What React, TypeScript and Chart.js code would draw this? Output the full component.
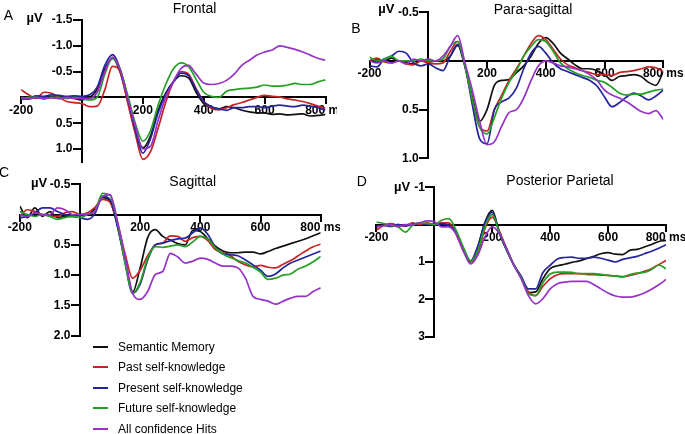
import { useEffect, useRef } from "react";
import { Chart, registerables } from "chart.js";

Chart.register(...registerables);

// ---------- data ----------
const timesMs = [-200, -175, -150, -125, -100, -75, -50, -25, 0, 25, 50, 75, 100, 125, 150, 175, 200, 225, 250, 275, 300, 325, 350, 375, 400, 425, 450, 475, 500, 525, 550, 575, 600, 625, 650, 675, 700, 725, 750, 775, 800];
const xTickValues = [-200, 200, 400, 600, 800];
const xUnit = "ms";
const yUnit = "µV";

const seriesNames = ["Semantic Memory", "Past self-knowledge", "Present self-knowledge", "Future self-knowledge", "All confidence Hits"];
const seriesColors = ["#111111", "#c62424", "#24249c", "#24a024", "#9632c8"];

const panelTitles = ["Frontal", "Para-sagittal", "Sagittal", "Posterior Parietal"];
const panelLetters = ["A", "B", "C", "D"];

// Frontal
const frontalSemantic = [0.02, 0.03, 0.0, 0.02, 0.0, 0.02, 0.0, 0.02, 0.05, 0.0, -0.15, -0.55, -0.76, -0.5, 0.05, 0.6, 0.98, 0.75, 0.25, -0.08, -0.3, -0.42, -0.38, -0.1, 0.12, 0.2, 0.22, 0.18, 0.2, 0.25, 0.28, 0.3, 0.3, 0.33, 0.32, 0.34, 0.33, 0.32, 0.36, 0.35, 0.33];
const frontalPast = [-0.15, -0.05, 0.02, -0.1, -0.08, 0.0, 0.08, 0.1, 0.12, 0.18, 0.17, -0.15, -0.6, -0.5, 0.1, 0.7, 1.2, 1.05, 0.6, 0.1, -0.3, -0.5, -0.45, -0.17, 0.08, 0.21, 0.24, 0.2, 0.14, 0.1, 0.05, 0.0, -0.04, -0.02, -0.01, 0.03, 0.05, 0.08, 0.12, 0.17, 0.21];
const frontalPresent = [0.03, 0.02, -0.03, -0.02, -0.05, -0.04, -0.02, -0.03, -0.02, -0.05, -0.2, -0.62, -0.83, -0.55, 0.0, 0.62, 1.08, 0.8, 0.3, -0.05, -0.3, -0.47, -0.42, -0.15, 0.08, 0.18, 0.22, 0.25, 0.2, 0.2, 0.18, 0.18, 0.2, 0.17, 0.15, 0.17, 0.18, 0.15, 0.17, 0.2, 0.25];
const frontalFuture = [0.02, 0.0, 0.0, 0.02, 0.0, 0.0, 0.02, 0.0, 0.02, 0.05, 0.0, -0.45, -0.75, -0.55, -0.05, 0.5, 0.85, 0.65, 0.15, -0.25, -0.55, -0.67, -0.6, -0.35, -0.1, -0.02, 0.0, -0.12, -0.15, -0.17, -0.18, -0.2, -0.24, -0.22, -0.22, -0.24, -0.27, -0.25, -0.25, -0.3, -0.34];
const frontalAll = [0.0, 0.02, 0.0, 0.03, 0.0, 0.02, 0.0, 0.02, 0.02, 0.02, -0.1, -0.5, -0.78, -0.55, 0.0, 0.55, 1.0, 0.95, 0.45, 0.0, -0.3, -0.56, -0.62, -0.45, -0.28, -0.25, -0.27, -0.33, -0.45, -0.62, -0.72, -0.82, -0.88, -0.92, -1.0, -0.97, -0.93, -0.88, -0.82, -0.76, -0.72];

// Para-sagittal
const paraSemantic = [0.0, -0.02, 0.0, -0.03, 0.0, 0.02, 0.03, 0.0, 0.01, 0.0, 0.0, -0.05, -0.16, 0.06, 0.37, 0.62, 0.5, 0.25, 0.2, 0.19, 0.12, 0.05, -0.05, -0.18, -0.24, -0.18, -0.08, -0.02, 0.04, 0.08, 0.08, 0.1, 0.14, 0.2, 0.16, 0.15, 0.14, 0.16, 0.22, 0.25, 0.11];
const paraPast = [0.0, -0.03, 0.01, 0.02, 0.0, 0.03, 0.04, 0.0, 0.02, 0.03, 0.02, -0.1, -0.2, 0.05, 0.4, 0.68, 0.72, 0.5, 0.35, 0.2, 0.08, -0.05, -0.18, -0.26, -0.22, -0.12, -0.02, 0.04, 0.07, 0.1, 0.12, 0.14, 0.14, 0.15, 0.12, 0.11, 0.1, 0.08, 0.06, 0.07, 0.11];
const paraPresent = [0.05, 0.06, -0.02, -0.05, -0.1, -0.08, 0.02, 0.05, 0.03, 0.07, 0.1, -0.05, -0.17, 0.05, 0.45, 0.8, 0.85, 0.5, 0.42, 0.38, 0.28, 0.08, -0.08, -0.15, -0.08, 0.02, 0.08, 0.11, 0.14, 0.17, 0.2, 0.26, 0.37, 0.47, 0.43, 0.37, 0.33, 0.36, 0.4, 0.36, 0.3];
const paraFuture = [-0.04, 0.0, -0.02, -0.05, 0.0, 0.0, 0.0, -0.02, 0.0, 0.0, -0.02, -0.15, -0.2, 0.05, 0.4, 0.68, 0.75, 0.58, 0.38, 0.22, 0.1, -0.05, -0.15, -0.22, -0.2, -0.1, 0.02, 0.08, 0.12, 0.15, 0.17, 0.2, 0.22, 0.27, 0.33, 0.35, 0.34, 0.34, 0.32, 0.3, 0.29];
const paraAll = [0.0, 0.02, 0.0, 0.02, 0.0, 0.03, -0.02, 0.0, -0.02, 0.0, -0.05, -0.15, -0.26, 0.02, 0.3, 0.62, 0.86, 0.83, 0.67, 0.53, 0.5, 0.38, 0.2, 0.05, 0.0, 0.02, 0.05, 0.06, 0.08, 0.1, 0.14, 0.2, 0.3, 0.35, 0.38, 0.42, 0.47, 0.52, 0.54, 0.51, 0.6];

// Sagittal
const sagSemantic = [-0.14, 0.05, -0.11, 0.03, -0.05, 0.05, 0.03, 0.03, 0.0, 0.0, -0.1, -0.28, -0.22, 0.2, 0.75, 1.28, 0.88, 0.38, 0.25, 0.36, 0.42, 0.48, 0.5, 0.26, 0.28, 0.4, 0.52, 0.6, 0.63, 0.63, 0.62, 0.62, 0.65, 0.61, 0.56, 0.52, 0.48, 0.44, 0.4, 0.35, 0.3];
const sagPast = [0.03, -0.08, -0.05, 0.0, 0.02, 0.03, -0.03, -0.05, 0.0, -0.03, -0.12, -0.25, -0.2, 0.15, 0.65, 1.05, 0.92, 0.68, 0.5, 0.47, 0.35, 0.36, 0.44, 0.38, 0.36, 0.43, 0.58, 0.63, 0.68, 0.77, 0.83, 0.86, 0.84, 0.87, 0.88, 0.82, 0.76, 0.68, 0.6, 0.53, 0.49];
const sagPresent = [0.05, 0.03, -0.03, -0.11, -0.11, -0.05, 0.0, 0.03, 0.05, 0.08, -0.02, -0.3, -0.25, 0.2, 0.8, 1.3, 1.15, 0.75, 0.5, 0.47, 0.43, 0.4, 0.39, 0.3, 0.22, 0.33, 0.54, 0.65, 0.66, 0.68, 0.75, 0.83, 0.92, 1.02, 0.98, 0.88, 0.8, 0.75, 0.7, 0.65, 0.6];
const sagFuture = [-0.05, 0.0, 0.03, 0.0, 0.03, 0.08, 0.05, 0.03, 0.05, 0.0, -0.06, -0.35, -0.32, 0.15, 0.8, 1.3, 1.12, 0.72, 0.53, 0.54, 0.52, 0.5, 0.53, 0.45, 0.36, 0.4, 0.55, 0.65, 0.71, 0.76, 0.8, 0.87, 0.95, 1.07, 1.05, 1.0, 0.98, 0.9, 0.85, 0.78, 0.69];
const sagAll = [0.0, 0.03, -0.03, 0.0, 0.0, -0.11, -0.08, 0.0, 0.0, -0.01, -0.06, -0.3, -0.33, 0.12, 0.7, 1.3, 1.4, 1.27, 0.99, 0.94, 0.64, 0.7, 0.8, 0.77, 0.72, 0.74, 0.8, 0.85, 0.85, 0.88, 1.05, 1.35, 1.4, 1.43, 1.48, 1.43, 1.38, 1.35, 1.35, 1.27, 1.21];

// Posterior Parietal
const parSemantic = [0.06, 0.0, 0.03, 0.0, 0.02, -0.03, 0.0, -0.03, 0.0, 0.0, 0.0, 0.2, 0.64, 1.0, 0.6, -0.07, -0.38, 0.24, 0.69, 1.09, 1.4, 1.82, 1.8, 1.45, 1.18, 1.1, 1.06, 1.01, 0.97, 0.91, 0.85, 0.78, 0.75, 0.79, 0.8, 0.69, 0.66, 0.6, 0.53, 0.45, 0.42];
const parPast = [0.15, 0.02, -0.03, 0.02, 0.04, -0.05, 0.0, -0.05, 0.0, -0.05, -0.05, 0.25, 0.7, 0.98, 0.78, 0.1, -0.2, 0.18, 0.65, 1.08, 1.42, 1.8, 1.9, 1.65, 1.45, 1.34, 1.31, 1.31, 1.31, 1.33, 1.34, 1.35, 1.36, 1.37, 1.4, 1.36, 1.31, 1.25, 1.18, 1.07, 0.96];
const parPresent = [0.05, 0.02, 0.05, 0.0, 0.03, 0.0, -0.05, 0.0, 0.0, -0.03, 0.02, 0.2, 0.64, 0.97, 0.58, -0.05, -0.33, 0.22, 0.68, 1.08, 1.38, 1.72, 1.72, 1.28, 1.09, 0.92, 0.88, 0.87, 0.9, 0.9, 0.87, 0.9, 0.95, 1.0, 0.93, 0.89, 0.85, 0.78, 0.71, 0.63, 0.54];
const parFuture = [-0.07, -0.03, 0.02, 0.06, 0.2, 0.02, -0.05, -0.03, 0.0, -0.12, -0.16, 0.15, 0.6, 0.97, 0.7, 0.05, -0.27, 0.22, 0.66, 1.08, 1.42, 1.85, 1.9, 1.55, 1.32, 1.27, 1.27, 1.28, 1.31, 1.31, 1.31, 1.33, 1.36, 1.38, 1.39, 1.34, 1.3, 1.28, 1.2, 1.08, 1.18];
const parAll = [0.05, 0.03, 0.0, 0.05, 0.0, 0.0, -0.05, -0.1, -0.08, 0.06, 0.06, 0.25, 0.7, 1.05, 0.82, 0.33, 0.06, 0.24, 0.64, 1.09, 1.45, 1.9, 2.12, 1.98, 1.72, 1.58, 1.54, 1.52, 1.52, 1.52, 1.6, 1.72, 1.83, 1.91, 1.94, 1.94, 1.9, 1.83, 1.73, 1.61, 1.47];

const frontalYTicks = [-1.5, -1.0, -0.5, 0.5, 1.0];
const paraYTicks = [-0.5, 0.5, 1.0];
const sagYTicks = [-0.5, 0.5, 1.0, 1.5, 2.0];
const parYTicks = [-1, 1, 2, 3];

// ---------- layout ----------
const FONT = "'Liberation Sans', Arial, Helvetica, sans-serif";
const drawOrder = [4, 3, 2, 1, 0];
const Y_TICK_LEN = 8;
const Y_LABEL_GAP = 1.5;

type PanelDef = {
  left: number; top: number; w: number; h: number;
  pad: { left: number; right: number; top: number; bottom: number };
  yMin: number; yMax: number; yTicks: number[]; decimals: number;
  series: number[][];
};

const panels: PanelDef[] = [
  { left: 0, top: 0, w: 337, h: 165, pad: { left: 21.1, right: 11.5, top: 20, bottom: 3.1 }, yMin: -1.5, yMax: 1.25, yTicks: frontalYTicks, decimals: 1,
    series: [frontalSemantic, frontalPast, frontalPresent, frontalFuture, frontalAll] },
  { left: 340, top: 0, w: 345, h: 165, pad: { left: 29.5, right: 21.7, top: 12.3, bottom: 6.7 }, yMin: -0.5, yMax: 1.0, yTicks: paraYTicks, decimals: 1,
    series: [paraSemantic, paraPast, paraPresent, paraFuture, paraAll] },
  { left: 0, top: 165, w: 340, h: 180, pad: { left: 19.8, right: 19.3, top: 19.3, bottom: 9.3 }, yMin: -0.5, yMax: 2.0, yTicks: sagYTicks, decimals: 1,
    series: [sagSemantic, sagPast, sagPresent, sagFuture, sagAll] },
  { left: 340, top: 165, w: 345, h: 180, pad: { left: 36.4, right: 19, top: 22.3, bottom: 8.3 }, yMin: -1, yMax: 3, yTicks: parYTicks, decimals: 0,
    series: [parSemantic, parPast, parPresent, parFuture, parAll] },
];

// Chart.js does not offset the labels of an axis placed at a data value;
// move the y labels left of their tick marks.
const yLabelOffsetPlugin = {
  id: "yLabelOffset",
  beforeDraw(chart: any) {
    const s = chart.scales.y;
    if (!s) return;
    const items = s.getLabelItems();
    items.forEach((it: any) => {
      if (!it.__shifted) {
        it.options.translation[0] -= Y_TICK_LEN + Y_LABEL_GAP;
        it.__shifted = true;
      }
    });
  },
};

function Panel({ p }: { p: PanelDef }) {
  const ref = useRef<HTMLCanvasElement | null>(null);
  useEffect(() => {
    if (!ref.current) return;
    const chart = new Chart(ref.current, {
      type: "line",
      data: {
        datasets: drawOrder.map((i) => ({
          label: seriesNames[i],
          data: timesMs.map((t, k) => ({ x: t, y: p.series[i][k] })),
          borderColor: seriesColors[i],
          backgroundColor: seriesColors[i],
          borderWidth: 1.7,
          pointRadius: 0,
          cubicInterpolationMode: "monotone" as const,
          fill: false,
        })),
      },
      plugins: [yLabelOffsetPlugin],
      options: {
        responsive: false,
        animation: false,
        events: [],
        layout: { padding: p.pad },
        plugins: { legend: { display: false }, tooltip: { enabled: false }, title: { display: false } },
        scales: {
          x: {
            type: "linear",
            min: -200,
            max: 800,
            position: { y: 0 } as any,
            afterBuildTicks: (s: any) => { s.ticks = xTickValues.map((v) => ({ value: v })); },
            afterFit: (s: any) => { s.height = 0; s.paddingLeft = 0; s.paddingRight = 0; },
            ticks: {
              autoSkip: false, maxRotation: 0, minRotation: 0, padding: 0, color: "#000",
              font: { family: FONT, size: 12, weight: "bold" },
              callback: (v: any) => (Number(v) === 800 ? `800 ${xUnit}` : String(v)),
            },
            grid: { display: true, drawOnChartArea: false, drawTicks: true, tickLength: 6, color: "#000", lineWidth: 2 },
            border: { display: true, color: "#000", width: 2 },
          },
          y: {
            type: "linear",
            reverse: true,
            min: p.yMin,
            max: p.yMax,
            position: { x: 0 } as any,
            afterBuildTicks: (s: any) => { s.ticks = p.yTicks.map((v) => ({ value: v })); },
            afterFit: (s: any) => { s.width = 0; s.paddingTop = 0; s.paddingBottom = 0; },
            ticks: {
              autoSkip: false, padding: Y_LABEL_GAP, color: "#000",
              font: { family: FONT, size: 12, weight: "bold" },
              callback: (v: any) => Number(v).toFixed(p.decimals),
            },
            grid: { display: true, drawOnChartArea: false, drawTicks: true, tickLength: Y_TICK_LEN, color: "#000", lineWidth: 2 },
            border: { display: true, color: "#000", width: 2 },
          },
        },
      } as any,
    });
    return () => chart.destroy();
  }, [p]);
  return (
    <canvas
      ref={ref}
      width={p.w}
      height={p.h}
      style={{ position: "absolute", left: p.left, top: p.top, width: p.w, height: p.h }}
    />
  );
}

const centered = (x: number, y: number, extra: any = {}) => ({
  position: "absolute" as const,
  left: x,
  top: y,
  transform: "translate(-50%, -50%)",
  whiteSpace: "nowrap" as const,
  lineHeight: 1,
  fontFamily: FONT,
  color: "#000",
  ...extra,
});

const titlePos = [[194.5, 7.5], [533, 9], [192.7, 181], [560, 180]];
const letterPos = [[8.3, 15], [356, 28], [4, 172], [361.7, 181]];
const unitPos = [[34.7, 16.7], [386.3, 8.3], [39, 181.5], [402, 186]];
const legendRows = [346.7, 367.3, 387.5, 408.3, 429];

export default function App() {
  return (
    <div style={{ position: "absolute", left: 0, top: 0, width: 685, height: 434, background: "#fff", overflow: "hidden" }}>
      {panels.map((p, i) => <Panel key={i} p={p} />)}
      {panelTitles.map((t, i) => (
        <div key={"t" + i} style={centered(titlePos[i][0], titlePos[i][1], { fontSize: 14 })}>{t}</div>
      ))}
      {panelLetters.map((t, i) => (
        <div key={"l" + i} style={centered(letterPos[i][0], letterPos[i][1], { fontSize: 14 })}>{t}</div>
      ))}
      {panelLetters.map((_, i) => (
        <div key={"u" + i} style={centered(unitPos[i][0], unitPos[i][1], { fontSize: 13, fontWeight: "bold" })}>{yUnit}</div>
      ))}
      {seriesNames.map((name, i) => (
        <div key={"g" + i}>
          <div style={{ position: "absolute", left: 93, top: legendRows[i] - 1, width: 15, height: 2, background: seriesColors[i] }} />
          <div style={{ position: "absolute", left: 118, top: legendRows[i], transform: "translateY(-50%)", fontFamily: FONT, fontSize: 12, lineHeight: 1, whiteSpace: "nowrap", color: "#000" }}>{name}</div>
        </div>
      ))}
    </div>
  );
}
